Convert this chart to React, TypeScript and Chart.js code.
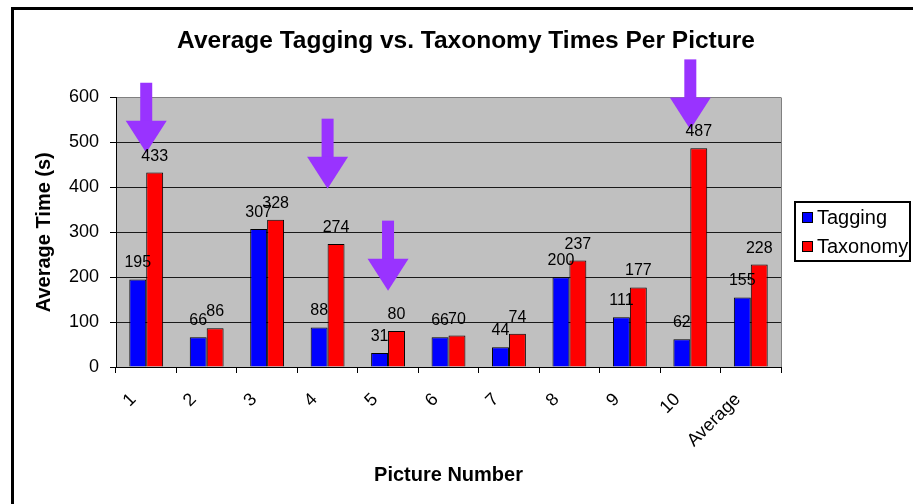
import React, { useEffect, useRef } from "react";
import { Chart, registerables } from "chart.js";

Chart.register(...registerables);

const chartTitle = "Average Tagging vs. Taxonomy Times Per Picture";
const xAxisTitle = "Picture Number";
const yAxisTitle = "Average Time (s)";
const categories = ["1", "2", "3", "4", "5", "6", "7", "8", "9", "10", "Average"];
const seriesNames = ["Tagging", "Taxonomy"];
const taggingTimes = [195, 66, 307, 88, 31, 66, 44, 200, 111, 62, 155];
const taxonomyTimes = [433, 86, 328, 274, 80, 70, 74, 237, 177, 487, 228];
const yTickValues = [0, 100, 200, 300, 400, 500, 600];
const arrowCategories = [0, 3, 4, 9];
const arrowTipValues = [477, 397, 170, 529];

const FONT = '"Liberation Sans", Arial, Helvetica, sans-serif';
const BLUE = "#0000FF";
const RED = "#FF0000";
const PURPLE = "#9933FF";

const decorPlugin = {
  id: "decor",
  beforeDraw(chart: any) {
    const { ctx, chartArea: a, width, height } = chart;
    ctx.save();
    ctx.fillStyle = "#ffffff";
    ctx.fillRect(0, 0, width, height);
    ctx.fillStyle = "#C0C0C0";
    ctx.fillRect(a.left, a.top, a.right - a.left, a.bottom - a.top);
    // outer frame
    ctx.strokeStyle = "#000";
    ctx.lineWidth = 3;
    ctx.beginPath();
    ctx.moveTo(12.5, height + 5);
    ctx.lineTo(12.5, 8.5);
    ctx.lineTo(width + 5, 8.5);
    ctx.stroke();
    // title
    ctx.fillStyle = "#000";
    ctx.font = `bold 24.5px ${FONT}`;
    ctx.textAlign = "center";
    ctx.textBaseline = "alphabetic";
    ctx.fillText(chartTitle, 466, 48);
    ctx.restore();
  },
  afterDatasetsDraw(chart: any) {
    const { ctx, chartArea: a, scales } = chart;
    const xs = scales.x;
    const ys = scales.y;
    ctx.save();
    // plot area right border
    ctx.strokeStyle = "#808080";
    ctx.lineWidth = 1;
    ctx.beginPath();
    ctx.moveTo(Math.round(a.right) + 0.5, a.top);
    ctx.lineTo(Math.round(a.right) + 0.5, a.bottom);
    ctx.stroke();

    // arrows
    ctx.fillStyle = PURPLE;
    arrowCategories.forEach((ci, k) => {
      const x = xs.getPixelForValue(ci);
      const tip = ys.getPixelForValue(arrowTipValues[k]);
      const total = 70;
      const headH = 32;
      const shaftW = 12;
      const headW = 41;
      ctx.fillRect(x - shaftW / 2, tip - total, shaftW, total - headH + 1);
      ctx.beginPath();
      ctx.moveTo(x - headW / 2, tip - headH);
      ctx.lineTo(x + headW / 2, tip - headH);
      ctx.lineTo(x, tip);
      ctx.closePath();
      ctx.fill();
    });

    // data labels
    ctx.fillStyle = "#000";
    ctx.font = `16px ${FONT}`;
    ctx.textAlign = "center";
    ctx.textBaseline = "alphabetic";
    chart.data.datasets.forEach((ds: any, di: number) => {
      const meta = chart.getDatasetMeta(di);
      meta.data.forEach((bar: any, j: number) => {
        ctx.fillText(String(ds.data[j]), bar.x, bar.y - 12);
      });
    });

    // legend
    ctx.strokeStyle = "#000";
    ctx.lineWidth = 2;
    ctx.strokeRect(795, 202, 115, 59);
    ctx.font = `20px ${FONT}`;
    ctx.textAlign = "left";
    ctx.textBaseline = "middle";
    chart.data.datasets.forEach((ds: any, di: number) => {
      const cy = 217.5 + di * 29;
      ctx.fillStyle = ds.backgroundColor;
      ctx.fillRect(802, cy - 5.5, 11, 11);
      ctx.lineWidth = 1;
      ctx.strokeStyle = "#000";
      ctx.strokeRect(802.5, cy - 5, 10, 10);
      ctx.fillStyle = "#000";
      ctx.fillText(ds.label, 817, cy + 1);
    });
    ctx.restore();
  },
};

export default function App() {
  const ref = useRef<HTMLCanvasElement | null>(null);

  useEffect(() => {
    document.body.style.margin = "0";
    document.body.style.overflow = "hidden";
    const canvas = ref.current;
    if (!canvas) return;
    const chart = new Chart(canvas, {
      type: "bar",
      data: {
        labels: categories,
        datasets: [
          {
            label: seriesNames[0],
            data: taggingTimes,
            backgroundColor: BLUE,
            borderColor: "#000",
            borderWidth: 1,
            barPercentage: 1,
            categoryPercentage: 0.56,
          },
          {
            label: seriesNames[1],
            data: taxonomyTimes,
            backgroundColor: RED,
            borderColor: "#000",
            borderWidth: 1,
            barPercentage: 1,
            categoryPercentage: 0.56,
          },
        ],
      },
      options: {
        responsive: false,
        animation: false,
        devicePixelRatio: 1,
        layout: { padding: { left: 0, top: 97.5, right: 132, bottom: 0 } },
        plugins: {
          legend: { display: false },
          title: { display: false },
          tooltip: { enabled: false },
        },
        scales: {
          x: {
            afterFit: (s: any) => {
              s.height = 137;
            },
            grid: {
              drawOnChartArea: false,
              drawTicks: true,
              tickLength: 6,
              color: "#000",
              offset: true,
            },
            border: { color: "#000", width: 1 },
            ticks: {
              autoSkip: false,
              minRotation: 45,
              maxRotation: 45,
              padding: 16,
              labelOffset: -13,
              color: "#000",
              font: { family: FONT, size: 18 },
            },
            title: {
              display: true,
              text: xAxisTitle,
              color: "#000",
              font: { family: FONT, size: 20, weight: "bold", lineHeight: 1 },
              padding: { top: 0, bottom: 19 },
            },
          },
          y: {
            min: yTickValues[0],
            max: yTickValues[yTickValues.length - 1],
            afterFit: (s: any) => {
              s.width = 116;
            },
            afterBuildTicks: (s: any) => {
              s.ticks = yTickValues.map((v) => ({ value: v }));
            },
            grid: {
              color: (c: any) => (c.tick && c.tick.value === 600 ? "#808080" : "#1a1a1a"),
              tickColor: "#000",
              tickLength: 6,
              drawTicks: true,
            },
            border: { color: "#000", width: 1 },
            ticks: {
              padding: 11,
              color: "#000",
              font: { family: FONT, size: 18 },
            },
            title: {
              display: true,
              text: yAxisTitle,
              color: "#000",
              font: { family: FONT, size: 20, weight: "bold", lineHeight: 1 },
              padding: { top: 34, bottom: 0 },
            },
          },
        },
      },
      plugins: [decorPlugin],
    });
    return () => chart.destroy();
  }, []);

  return (
    <div style={{ position: "fixed", left: 0, top: 0, width: 913, height: 504, overflow: "hidden" }}>
      <canvas ref={ref} width={913} height={504} style={{ display: "block" }} />
    </div>
  );
}
